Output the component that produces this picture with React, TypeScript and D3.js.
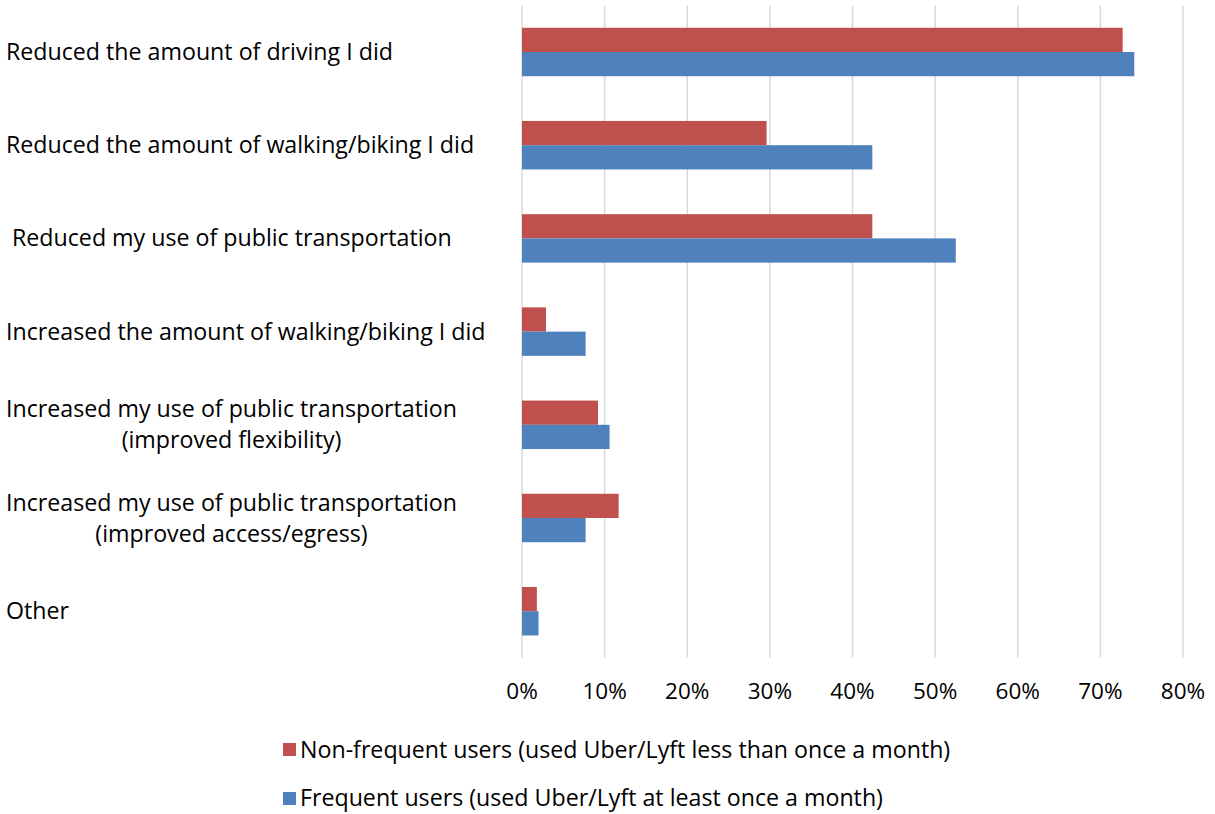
import React from "react";
import * as d3 from "d3";

const categories: string[][] = [
  ["Reduced the amount of driving I did"],
  ["Reduced the amount of walking/biking I did"],
  [" Reduced my use of public transportation"],
  ["Increased the amount of walking/biking I did"],
  ["Increased my use of public transportation", "(improved flexibility)"],
  ["Increased my use of public transportation", "(improved access/egress)"],
  ["Other"],
];
const nonFrequent = [72.7, 29.6, 42.4, 2.9, 9.2, 11.7, 1.8];
const frequent = [74.1, 42.4, 52.5, 7.7, 10.6, 7.7, 2.0];
const xTicks = [0, 10, 20, 30, 40, 50, 60, 70, 80];
const seriesNames = [
  "Non-frequent users (used Uber/Lyft less than once a month)",
  "Frequent users (used Uber/Lyft at least once a month)",
];
const colors = ["#C0504D", "#4F81BD"];

const FONT = "'Open Sans', sans-serif";
const FS = 23.2;
const TFS = 22.5;

function measure(text: string): number {
  const c = document.createElement("canvas");
  const ctx = c.getContext("2d")!;
  ctx.font = `${FS}px ${FONT}`;
  return ctx.measureText(text).width;
}

export default function App() {
  const W = 1215, H = 814;
  const left = 522, right = 1183, top = 5.4, bottom = 657.8;
  const x = d3.scaleLinear().domain([0, 80]).range([left, right]);
  const y = d3
    .scaleBand<number>()
    .domain(categories.map((_, i) => i))
    .range([top, bottom])
    .paddingInner(0.48)
    .paddingOuter(0.24);
  const sub = d3.scaleBand<number>().domain([0, 1]).range([0, y.bandwidth()]);
  const series = [nonFrequent, frequent];

  return (
    <svg
      width={W}
      height={H}
      style={{ position: "absolute", left: 0, top: 0, background: "#fff" }}
      fontFamily={FONT}
    >
      {xTicks.map((t) => (
        <line key={t} x1={x(t)} x2={x(t)} y1={top} y2={bottom} stroke="#d9d9d9" strokeWidth={1.5} />
      ))}
      {series.map((vals, s) =>
        vals.map((v, i) => (
          <rect
            key={`${s}-${i}`}
            x={x(0)}
            y={(y(i) as number) + (sub(s) as number)}
            width={x(v) - x(0)}
            height={sub.bandwidth()}
            fill={colors[s]}
          />
        ))
      )}
      {xTicks.map((t) => (
        <text key={t} x={x(t)} y={699} textAnchor="middle" fontSize={TFS} fill="#000">
          {t}%
        </text>
      ))}
      {categories.map((lines, i) => {
        const cy = (y(i) as number) + y.bandwidth() / 2;
        const w0 = measure(lines[0]);
        if (lines.length === 1) {
          return (
            <text key={i} x={6} y={cy + 8} fontSize={FS} fill="#000" style={{ whiteSpace: "pre" }}>
              {lines[0]}
            </text>
          );
        }
        return (
          <g key={i}>
            <text x={6} y={cy - 15.5 + 8} fontSize={FS} fill="#000">
              {lines[0]}
            </text>
            <text x={6 + w0 / 2} y={cy + 15.5 + 8} fontSize={FS} fill="#000" textAnchor="middle">
              {lines[1]}
            </text>
          </g>
        );
      })}
      {seriesNames.map((name, s) => (
        <g key={s}>
          <rect x={283} y={743 + s * 49} width={13} height={13} fill={colors[s]} />
          <text x={300} y={758 + s * 48} fontSize={FS} fill="#000">
            {name}
          </text>
        </g>
      ))}
    </svg>
  );
}
